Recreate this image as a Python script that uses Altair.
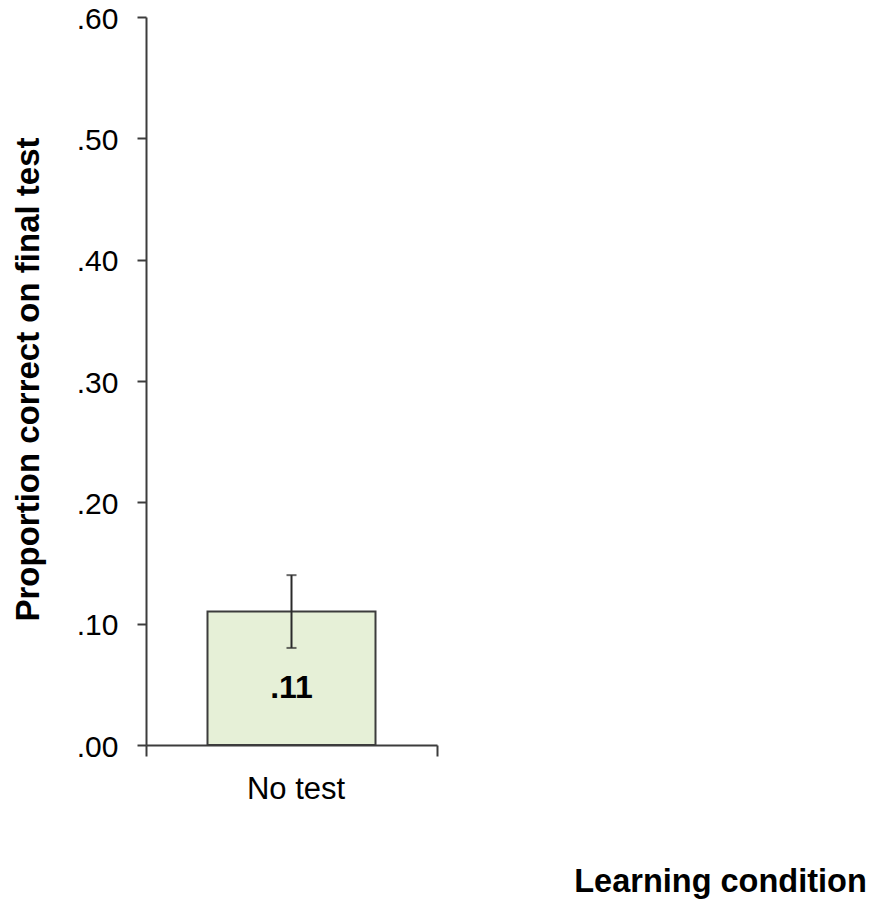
import altair as alt
import pandas as pd

# ---- data ----
conditions = ["No test"]
means = [0.11]
ci_low = [0.08]
ci_high = [0.14]
bar_labels = [".11"]
y_ticks = [0.0, 0.1, 0.2, 0.3, 0.4, 0.5, 0.6]

df = pd.DataFrame({
    "condition": conditions,
    "mean": means,
    "lo": ci_low,
    "hi": ci_high,
    "label": bar_labels,
})

FONT = "Liberation Sans"
AX = "#3c3c3c"
XT = "Learning condition"
YT = "Proportion correct on final test"

x_enc = alt.X(
    "condition:N",
    title=XT,
    scale=alt.Scale(paddingInner=0, paddingOuter=0),
    axis=alt.Axis(
        title=XT,
        labelAngle=0,
        tickBand="extent",
        tickSize=11,
        labelPadding=18,
        labelOffset=4,
        labelFontSize=31,
        titleFontSize=32.5,
        titleFontWeight="bold",
        titleX=574,
        titleY=146,
        titleAlign="center",
        titleBaseline="alphabetic",
        titleAnchor="start",
        grid=False,
    ),
)

y_scale = alt.Scale(domain=[0, 0.6], nice=False, zero=True)
y_axis = alt.Axis(
    title=YT,
    values=y_ticks,
    labelExpr="substring(format(datum.value, '.2f'), 1)",
    tickSize=9,
    labelPadding=19,
    labelOffset=2,
    labelFontSize=30,
    titleFontSize=33,
    titleFontWeight="bold",
    titleAngle=270,
    titleX=-108,
    titleY=362,
    titleAlign="center",
    titleBaseline="alphabetic",
    grid=False,
)

base = alt.Chart(df)

bars = base.mark_bar(
    width=168, color="#e6f0d7", stroke=AX, strokeWidth=2
).encode(
    x=x_enc,
    y=alt.Y("mean:Q", title=YT, scale=y_scale, axis=y_axis),
)

stem = base.mark_rule(color="#2a2a2a", strokeWidth=2).encode(
    x=alt.X("condition:N", title=XT),
    y=alt.Y("lo:Q", title=YT),
    y2="hi:Q",
)

cap_lo = base.mark_tick(color="#2a2a2a", size=10, thickness=2).encode(
    x=alt.X("condition:N", title=XT),
    y=alt.Y("lo:Q", title=YT),
)
cap_hi = base.mark_tick(color="#2a2a2a", size=10, thickness=2).encode(
    x=alt.X("condition:N", title=XT),
    y=alt.Y("hi:Q", title=YT),
)

text = base.transform_calculate(mid="datum.mean / 2").mark_text(
    font=FONT, fontSize=32, fontWeight="bold", color="#000000",
    baseline="middle", dy=10,
).encode(
    x=alt.X("condition:N", title=XT),
    y=alt.Y("mid:Q", title=YT),
    text="label:N",
)

chart = alt.layer(bars, stem, cap_lo, cap_hi, text).properties(
    width=291,
    height=728,
    background="white",
    autosize=alt.AutoSizeParams(type="none"),
    padding={"left": 138, "top": 9, "right": 432, "bottom": 154},
).configure_view(
    stroke="transparent",
    strokeWidth=0,
).configure_axis(
    labelFont=FONT,
    titleFont=FONT,
    labelColor="#000000",
    titleColor="#000000",
    domainColor=AX,
    tickColor=AX,
    domainWidth=2,
    tickWidth=2,
)

chart.save("out.html", embed_options={"renderer": "svg", "actions": False})
